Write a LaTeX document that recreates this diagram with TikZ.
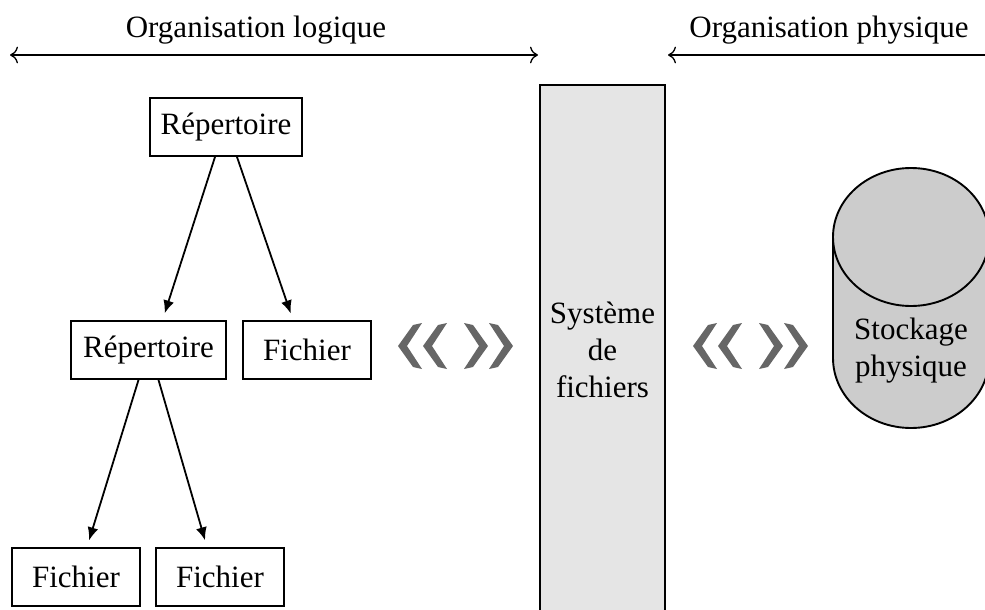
\documentclass[tikz,border=0pt]{standalone}
\usepackage{fontspec}
\setmainfont{Liberation Serif}
\usetikzlibrary{arrows.meta}

\tikzset{
  box/.style={draw, line width=0.95pt, inner sep=0pt, align=center},
  repbox/.style={box, minimum width=76pt, minimum height=29pt},
  filebox/.style={box, minimum width=64pt, minimum height=29pt},
  treearrow/.style={-{Latex[length=6.5pt,width=5.5pt]}, line width=0.9pt, shorten >=3.5pt},
  scope arrow/.style={line width=0.65pt},
  chev/.style={fill=black!60, draw=none},
  label/.style={inner sep=0pt}
}

% left-pointing chevron: tip at (#1,#2)
\newcommand{\chevleft}[2]{%
  \fill[chev] (#1+15,#2-21) -- (#1+24,#2-23) -- (#1+9,#2) -- (#1+24,#2+23)
    -- (#1+15,#2+21) -- (#1,#2) -- cycle;}
% right-pointing chevron: tip at (#1,#2)
\newcommand{\chevright}[2]{%
  \fill[chev] (#1-15,#2-21) -- (#1-24,#2-23) -- (#1-9,#2) -- (#1-24,#2+23)
    -- (#1-15,#2+21) -- (#1,#2) -- cycle;}

\begin{document}
\begin{tikzpicture}[x=0.5pt, y=-0.5pt, font=\fontsize{15.5}{18.5}\selectfont]
  \useasboundingbox (0,0) rectangle (985,610);
  \clip (0,0) rectangle (985,610);

  % scope headings
  \node[label] (logique) at (256,30) {Organisation logique};
  \coordinate (lgA) at (10,55);
  \coordinate (lgB) at (538,55);
  \draw[scope arrow, {To[length=4pt]}-{To[length=4pt]}] (lgA) -- (lgB);

  \node[label] (physique) at (829,30) {Organisation physique};
  \coordinate (phA) at (668,55);
  \coordinate (phB) at (1000,55);
  \draw[scope arrow, {To[length=4pt]}-] (phA) -- (phB);

  % directory tree
  \node[repbox] (rep1) at (226,127) {Répertoire};
  \node[repbox, minimum width=77.5pt] (rep2) at (148.5,350) {Répertoire};
  \node[filebox] (fic1) at (307,350) {Fichier};
  \node[filebox] (fic2) at (76,577) {Fichier};
  \node[filebox] (fic3) at (220,577) {Fichier};

  \draw[treearrow] ([xshift=-5.5pt]rep1.south) -- ([xshift=7pt]rep2.north);
  \draw[treearrow] ([xshift=5.5pt]rep1.south) -- ([xshift=-7pt]fic1.north);
  \draw[treearrow] ([xshift=-5pt]rep2.south) -- ([xshift=5.5pt]fic2.north);
  \draw[treearrow] ([xshift=5pt]rep2.south) -- ([xshift=-6.5pt]fic3.north);

  % exchange chevrons
  \chevleft{398}{346}
  \chevleft{423}{346}
  \chevright{488}{346}
  \chevright{513}{346}

  \chevleft{693}{346}
  \chevleft{718}{346}
  \chevright{783}{346}
  \chevright{808}{346}

  % file system layer
  \node[box, fill=black!10, minimum width=62.5pt, minimum height=265pt]
    (sys) at (602.5,350) {Système\\de\\fichiers};

  % physical storage cylinder (y axis points down here)
  \filldraw[fill=black!20, line width=0.95pt]
    (833,237) -- (833,358) arc[start angle=180, end angle=0, x radius=78, y radius=70]
    -- (989,237) arc[start angle=0, end angle=-180, x radius=78, y radius=69] -- cycle;
  \draw[line width=0.95pt] (833,237) arc[start angle=180, end angle=0, x radius=78, y radius=69];
  \node[label, align=center] (stock) at (911,351) {Stockage\\physique};
\end{tikzpicture}
\end{document}
